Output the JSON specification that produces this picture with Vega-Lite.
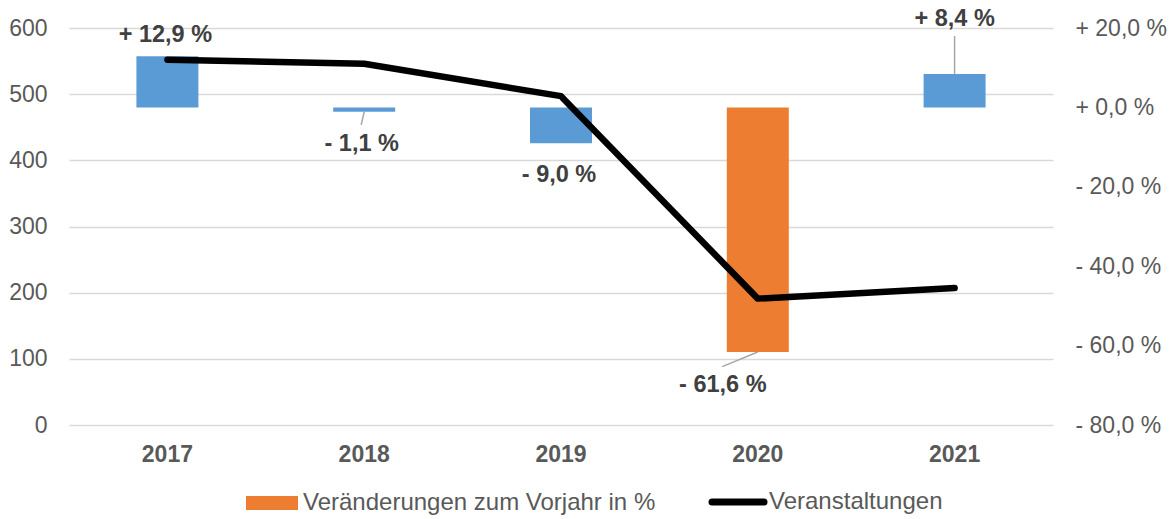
{
  "$schema": "https://vega.github.io/schema/vega-lite/v6.json",
  "width": 984,
  "height": 397,
  "autosize": "none",
  "padding": {"left": 69, "top": 28, "right": 123, "bottom": 94},
  "background": "white",
  "config": {
    "view": {"stroke": null},
    "font": "Liberation Sans",
    "axis": {
      "labelFont": "Liberation Sans",
      "labelFontSize": 23,
      "labelColor": "#595959",
      "domain": false,
      "ticks": false,
      "gridColor": "#D9D9D9",
      "gridWidth": 1.5
    }
  },
  "data": {
    "values": [
      {"year": "2017", "events": 552, "pct": 12.9},
      {"year": "2018", "events": 546, "pct": -1.1},
      {"year": "2019", "events": 497, "pct": -9.0},
      {"year": "2020", "events": 191, "pct": -61.6},
      {"year": "2021", "events": 207, "pct": 8.4}
    ]
  },
  "transform": [
    {"calculate": "datum.year === '2020' ? 'Veränderungen zum Vorjahr in %' : 'Sonstige'", "as": "series"},
    {"calculate": "(datum.pct >= 0 ? '+ ' : '- ') + replace(format(abs(datum.pct), '.1f'), '.', ',') + ' %'", "as": "label"}
  ],
  "layer": [
    {
      "encoding": {
        "x": {"field": "year", "type": "nominal", "title": null,
              "scale": {"paddingInner": 0.685, "paddingOuter": 0.3425},
              "axis": {"labelAngle": 0, "labelFontWeight": "bold", "labelPadding": 18}},
        "y": {"field": "pct", "type": "quantitative", "title": null,
              "scale": {"domain": [-80, 20], "nice": false},
              "axis": {"orient": "right", "grid": false, "values": [-80, -60, -40, -20, 0, 20], "labelPadding": 22,
                       "labelExpr": "(datum.value >= 0 ? '+ ' : '- ') + replace(format(abs(datum.value), '.1f'), '.', ',') + ' %'"}}
      },
      "layer": [
        {
          "mark": {"type": "bar"},
          "encoding": {
            "color": {"field": "series", "type": "nominal",
                      "scale": {"domain": ["Veränderungen zum Vorjahr in %", "Veranstaltungen", "Sonstige"], "range": ["#ED7D31", "#000000", "#5B9BD5"]},
                      "legend": {
                        "title": null, "orient": "none", "direction": "horizontal", "legendX": 191, "legendY": 462,
                        "values": ["Veränderungen zum Vorjahr in %", "Veranstaltungen"],
                        "labelFont": "Liberation Sans", "labelFontSize": 24, "labelColor": "#595959", "labelLimit": 0,
                        "labelOffset": 19, "columnPadding": 42, "symbolSize": 100, "padding": 0,
                        "encode": {"symbols": {"update": {
                          "shape": {"signal": "datum.value === 'Veranstaltungen' ? 'M-5.2,0H5.2' : 'M-5.2,-1.4H5.2V1.4H-5.2Z'"},
                          "size": {"value": 100},
                          "fill": {"signal": "datum.value === 'Veranstaltungen' ? 'transparent' : '#ED7D31'"},
                          "stroke": {"signal": "datum.value === 'Veranstaltungen' ? '#000000' : 'transparent'"},
                          "strokeWidth": {"signal": "datum.value === 'Veranstaltungen' ? 7 : 0"},
                          "strokeCap": {"value": "round"},
                          "opacity": {"value": 1}
                        }}}
                      }}
          }
        },
        {
          "data": {"values": [{"year": "2017"}]},
          "mark": {"type": "rule", "color": "#000000", "strokeWidth": 1.3},
          "encoding": {"x": null, "y": {"datum": 0, "type": "quantitative"}}
        },
        {
          "transform": [{"filter": "datum.year === '2018'"}],
          "mark": {"type": "rule", "color": "#A6A6A6", "strokeWidth": 1.5, "x2Offset": -3},
          "encoding": {"x2": {"field": "year"}, "y2": {"datum": -4.4}}
        },
        {
          "transform": [{"filter": "datum.year === '2020'"}],
          "mark": {"type": "rule", "color": "#A6A6A6", "strokeWidth": 1.5, "x2Offset": -35.6},
          "encoding": {"x2": {"field": "year"}, "y2": {"datum": -65.3}}
        },
        {
          "transform": [{"filter": "datum.year === '2021'"}],
          "mark": {"type": "rule", "color": "#A6A6A6", "strokeWidth": 1.5},
          "encoding": {"y2": {"datum": 18.0}}
        },
        {
          "transform": [{"filter": "datum.year === '2017'"}],
          "mark": {"type": "text", "fontWeight": "bold", "fontSize": 23.5, "color": "#404040", "dx": -2, "dy": -21},
          "encoding": {"text": {"field": "label"}}
        },
        {
          "transform": [{"filter": "datum.year === '2018'"}],
          "mark": {"type": "text", "fontWeight": "bold", "fontSize": 23.5, "color": "#404040", "dx": -2.5, "dy": 32.5},
          "encoding": {"text": {"field": "label"}}
        },
        {
          "transform": [{"filter": "datum.year === '2019'"}],
          "mark": {"type": "text", "fontWeight": "bold", "fontSize": 23.5, "color": "#404040", "dx": -2, "dy": 32},
          "encoding": {"text": {"field": "label"}}
        },
        {
          "transform": [{"filter": "datum.year === '2020'"}],
          "mark": {"type": "text", "fontWeight": "bold", "fontSize": 23.5, "color": "#404040", "dx": -35, "dy": 33.5},
          "encoding": {"text": {"field": "label"}}
        },
        {
          "transform": [{"filter": "datum.year === '2021'"}],
          "mark": {"type": "text", "fontWeight": "bold", "fontSize": 23.5, "color": "#404040", "dx": 0, "dy": -55},
          "encoding": {"text": {"field": "label"}}
        }
      ]
    },
    {
      "mark": {"type": "line", "color": "#000000", "strokeWidth": 6.5, "strokeCap": "round", "strokeJoin": "round"},
      "encoding": {
        "x": {"field": "year", "type": "nominal", "title": null,
              "scale": {"paddingInner": 0.685, "paddingOuter": 0.3425},
              "axis": {"labelAngle": 0, "labelFontWeight": "bold", "labelPadding": 18}},
        "y": {"field": "events", "type": "quantitative", "title": null,
              "scale": {"domain": [0, 600], "nice": false},
              "axis": {"orient": "left", "grid": true, "values": [0, 100, 200, 300, 400, 500, 600], "labelPadding": 22}},
        "color": {"datum": "Veranstaltungen", "type": "nominal",
                  "scale": {"domain": ["Veränderungen zum Vorjahr in %", "Veranstaltungen", "Sonstige"], "range": ["#ED7D31", "#000000", "#5B9BD5"]}}
      }
    }
  ],
  "resolve": {"scale": {"y": "independent"}}
}
